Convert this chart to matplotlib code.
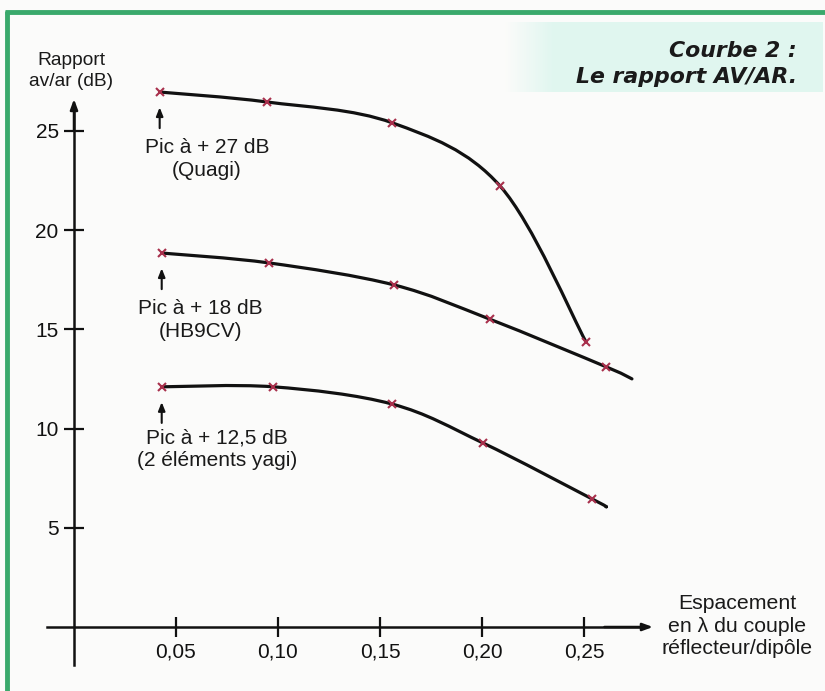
import numpy as np
import matplotlib
matplotlib.use("Agg")
import matplotlib.pyplot as plt
from matplotlib.path import Path
from matplotlib.patches import PathPatch
from matplotlib.lines import Line2D

plt.rcParams['font.family'] = ['Liberation Sans', 'DejaVu Sans']

# ---------------- data ----------------
quagi_x = [0.042, 0.0945, 0.156, 0.209, 0.251]
quagi_y = [26.95, 26.45, 25.4, 22.2, 14.36]

hb9cv_x = [0.043, 0.0957, 0.157, 0.204, 0.261]
hb9cv_y = [18.84, 18.34, 17.23, 15.5, 13.1]
hb9cv_tail = (0.2735, 12.5)   # line continues past last cross

yagi_x = [0.043, 0.0977, 0.156, 0.2005, 0.254]
yagi_y = [12.1, 12.1, 11.23, 9.27, 6.45]
yagi_tail = (0.261, 6.05)

x_ticks = [0.05, 0.10, 0.15, 0.20, 0.25]
x_ticklabels = ["0,05", "0,10", "0,15", "0,20", "0,25"]
y_ticks = [5, 10, 15, 20, 25]
y_ticklabels = ["5", "10", "15", "20", "25"]

labels = ["Pic à + 27 dB\n(Quagi)", "Pic à + 18 dB\n(HB9CV)", "Pic à + 12,5 dB\n(2 éléments yagi)"]

# ---------------- figure ----------------
W, H = 825, 691
fig = plt.figure(figsize=(W / 100, H / 100), dpi=100)
bg = '#fbfbfa'
fig.patch.set_facecolor(bg)

ax = fig.add_axes([0, 0, 1, 1])
ax.set_facecolor('none')
ax.set_xlim(-0.03627, 0.36814)
ax.set_ylim(-3.224, 31.587)


def smooth_path(xs, ys):
    """Catmull-Rom through the points, drawn as cubic Bezier segments."""
    P = np.column_stack([xs, ys]).astype(float)
    sx, sy = 2040.0, 19.85
    Q = P * [sx, sy]
    verts = [Q[0]]
    codes = [Path.MOVETO]
    n = len(Q)
    for i in range(n - 1):
        p0 = Q[i - 1] if i > 0 else Q[i]
        p1, p2 = Q[i], Q[i + 1]
        p3 = Q[i + 2] if i + 2 < n else Q[i + 1]
        c1 = p1 + (p2 - p0) / 6.0
        c2 = p2 - (p3 - p1) / 6.0
        verts += [c1, c2, p2]
        codes += [Path.CURVE4] * 3
    verts = np.array(verts) / [sx, sy]
    return Path(verts, codes)


line_kw = dict(facecolor='none', edgecolor='#111111', linewidth=2.3,
               capstyle='round', joinstyle='round', zorder=3)
mk_kw = dict(linestyle='none', marker='x', markersize=5.5, markeredgewidth=1.5,
             color='#a8304c', zorder=4)

series = [
    (quagi_x, quagi_y, None),
    (hb9cv_x, hb9cv_y, hb9cv_tail),
    (yagi_x, yagi_y, yagi_tail),
]
for xs, ys, tail in series:
    lx, ly = list(xs), list(ys)
    if tail is not None:
        lx.append(tail[0]); ly.append(tail[1])
    ax.add_patch(PathPatch(smooth_path(lx, ly), **line_kw))
    ax.plot(xs, ys, **mk_kw)

# annotations under first point of each curve
ann_offsets = [(34, -48), (28, -48), (40, -45)]  # text centre offsets in points
for (xs, ys, _), lab, (dx, dy) in zip(series, labels, ann_offsets):
    ax.annotate('', xy=(xs[0], ys[0]), xycoords='data',
                xytext=(0, -26), textcoords='offset points',
                arrowprops=dict(arrowstyle='-|>,head_length=0.5,head_width=0.2',
                                color='#111111', lw=1.5,
                                shrinkA=0, shrinkB=11))
    ax.annotate(lab, xy=(xs[0], ys[0]), xycoords='data',
                xytext=(dx, dy), textcoords='offset points',
                ha='center', va='center', fontsize=15, linespacing=1.25,
                color='#1a1a1a')

# axes through the origin
for s in ['top', 'right']:
    ax.spines[s].set_visible(False)
ax.spines['left'].set_position(('data', 0))
ax.spines['bottom'].set_position(('data', 0))
ax.spines['left'].set_bounds(-1.9, 26.0)
ax.spines['bottom'].set_bounds(-0.013, 0.278)
for s in ['left', 'bottom']:
    ax.spines[s].set_linewidth(1.8)
    ax.spines[s].set_color('#111111')
ax.annotate('', xy=(0, 26.6), xytext=(0, 25.0),
            arrowprops=dict(arrowstyle='-|>,head_length=0.6,head_width=0.22',
                            color='#111111', lw=1.8, shrinkA=0, shrinkB=0))
ax.annotate('', xy=(0.2838, 0), xytext=(0.26, 0),
            arrowprops=dict(arrowstyle='-|>,head_length=0.6,head_width=0.22',
                            color='#111111', lw=1.8, shrinkA=0, shrinkB=0))

ax.set_xticks(x_ticks)
ax.set_xticklabels(x_ticklabels)
ax.set_yticks(y_ticks)
ax.set_yticklabels(y_ticklabels)
ax.tick_params(axis='both', direction='inout', length=14, width=1.6,
               colors='#111111', labelsize=15)
ax.tick_params(axis='x', pad=4)
ax.tick_params(axis='y', pad=4)

# axis titles
ax.text(-0.0015, 28.0, "Rapport\nav/ar (dB)", ha='center', va='center',
        fontsize=13.8, linespacing=1.3, color='#1a1a1a')
ax.text(0.3252, 0.05, "Espacement\nen λ du couple\nréflecteur/dipôle", ha='center',
        va='center', fontsize=15.3, linespacing=1.25, color='#1a1a1a')

# title box with soft mint gradient
gax = fig.add_axes([505 / W, 1 - 92 / H, (822 - 505) / W, (92 - 22) / H])
mint = np.array([0.88, 0.965, 0.94])
white = np.array([0.985, 0.985, 0.98])
t = np.clip(np.linspace(0, 1, 200) / 0.15, 0, 1)
row = white + (mint - white) * t[:, None]
g = np.broadcast_to(row, (2, 200, 3))
gax.imshow(g, aspect='auto', extent=[0, 1, 0, 1])
gax.set_axis_off()
gax.set_zorder(-1)
ax.set_zorder(1)

title_kw = dict(ha='right', va='center', fontsize=15.8, fontweight='bold',
                fontstyle='italic', color='#1a1a1a', family='DejaVu Sans')
fig.text(797 / W, 1 - 51 / H, "Courbe 2 :", **title_kw)
fig.text(797 / W, 1 - 77 / H, "Le rapport AV/AR.", **title_kw)

# green frame (top and left)
green = '#3aa96c'
fig.add_artist(Line2D([5 / W, 1.0], [1 - 12 / H, 1 - 12 / H], color=green, lw=3.5,
                      transform=fig.transFigure, solid_capstyle='butt'))
fig.add_artist(Line2D([6.5 / W, 6.5 / W], [0, 1 - 10.5 / H], color=green, lw=3.5,
                      transform=fig.transFigure, solid_capstyle='butt'))

fig.savefig('out.png', dpi=100, facecolor=fig.get_facecolor())
